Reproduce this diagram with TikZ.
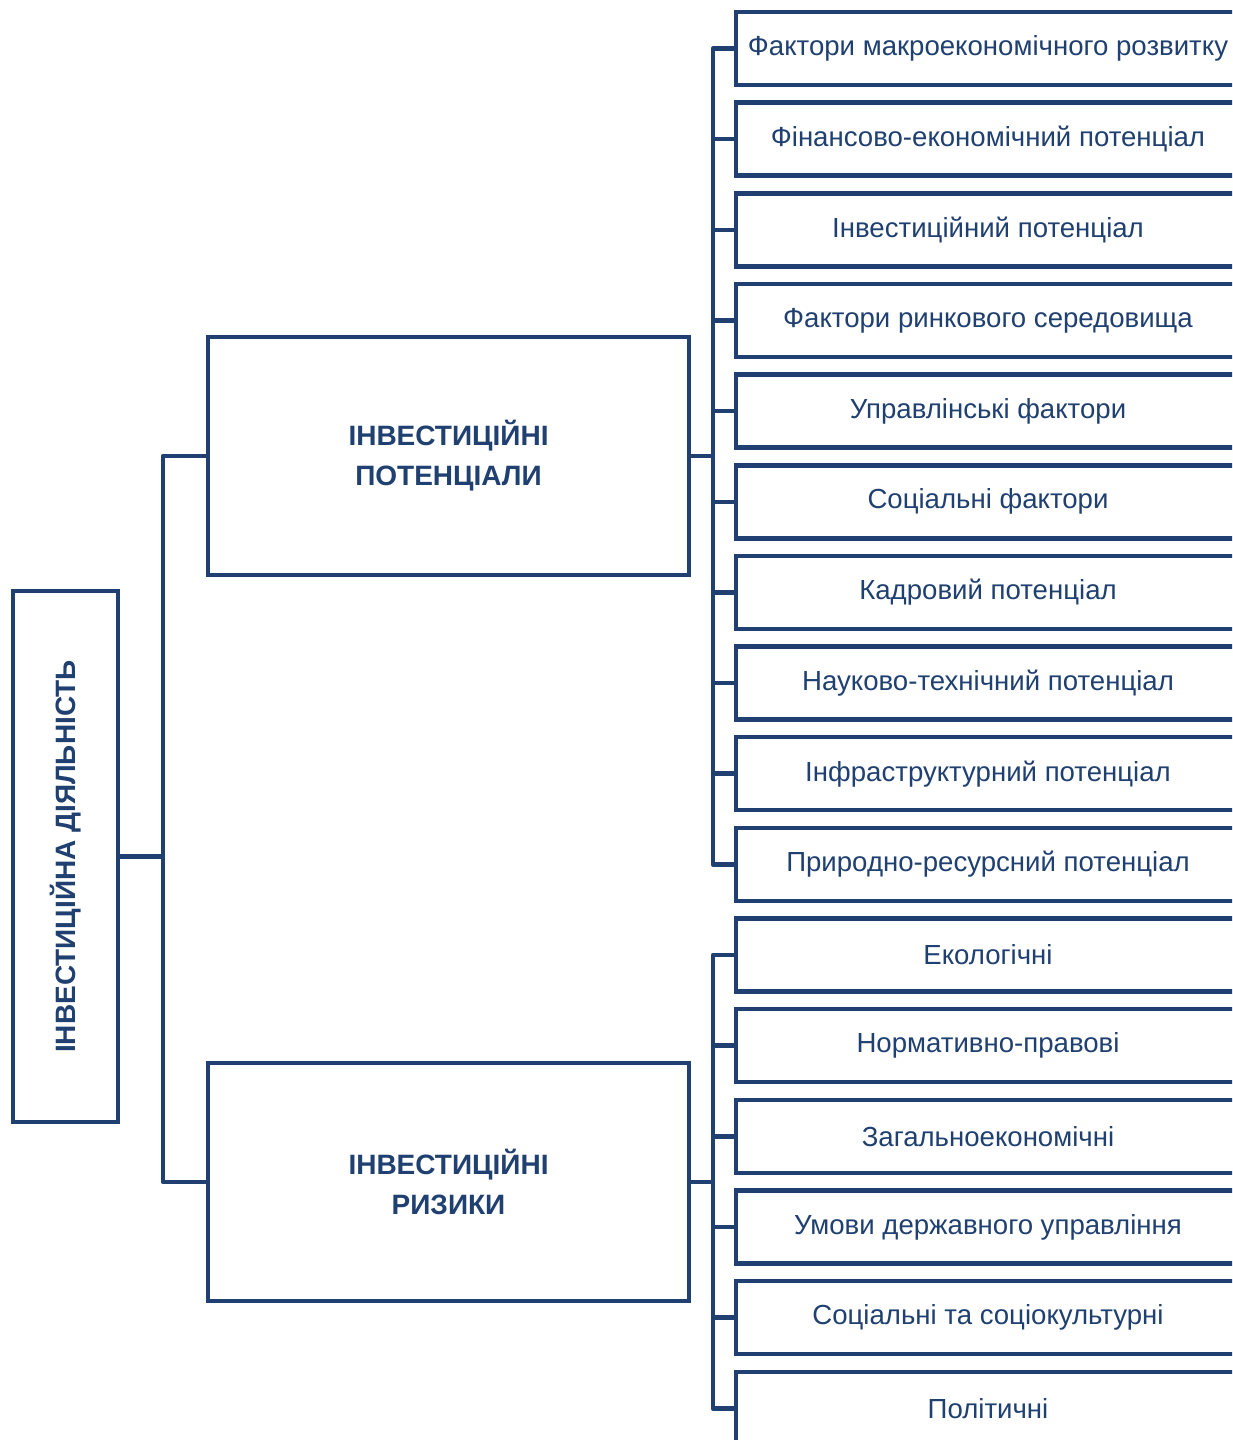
\documentclass[tikz,border=0pt]{standalone}
\usepackage{fontspec}
\setmainfont{Liberation Sans}
\definecolor{navy}{RGB}{31,64,112}
\begin{document}
\begin{tikzpicture}[x=1pt,y=-1pt,
  box/.style={draw=navy,line width=4.5pt,rectangle,inner sep=0pt,text=navy,align=center},
  rbox/.style={box,minimum width=504pt,minimum height=73pt,font=\fontsize{27.6}{32}\selectfont},
  mbox/.style={box,minimum width=481pt,minimum height=238pt,font=\fontsize{28}{40}\selectfont\bfseries},
  conn/.style={draw=navy,line width=4.5pt,line join=round}]
\useasboundingbox (0,0) rectangle (1232,1440);
\clip (0,0) rectangle (1232,1440);
\fill[white] (0,0) rectangle (1232,1440);
% left box
\node[box,minimum width=105pt,minimum height=531pt] (root) at (65.5,856.5) {};
\node[text=navy,rotate=90,font=\fontsize{28}{32}\selectfont\bfseries] (roottxt) at (65.5,856.5) {ІНВЕСТИЦІЙНА ДІЯЛЬНІСТЬ};
% middle boxes
\node[mbox] (ip) at (448.5,456) {ІНВЕСТИЦІЙНІ\\ПОТЕНЦІАЛИ};
\node[mbox] (ir) at (448.5,1182) {ІНВЕСТИЦІЙНІ\\РИЗИКИ};
% right boxes
\foreach \i/\t in {1/Фактори макроекономічного розвитку,2/Фінансово-економічний потенціал,3/Інвестиційний потенціал,4/Фактори ринкового середовища,5/Управлінські фактори,6/Соціальні фактори,7/Кадровий потенціал,8/Науково-технічний потенціал,9/Інфраструктурний потенціал,10/Природно-ресурсний потенціал,11/Екологічні,12/Нормативно-правові,13/Загальноекономічні,14/Умови державного управління,15/Соціальні та соціокультурні,16/Політичні}
  \node[rbox] (r\i) at (988,{48.5+90.65*(\i-1)}) {\t};
% connectors
\coordinate (b0) at (163,0);
\coordinate (b1) at (713,0);
\draw[conn] (root.east) -- (root.east -| b0);
\draw[conn] (ip.west) -- (ip.west -| b0) -- (ir.west -| b0) -- (ir.west);
\draw[conn] (ip.east) -- (ip.east -| b1);
\draw[conn] (ir.east) -- (ir.east -| b1);
\draw[conn] (r1.west) -- (r1.west -| b1) -- (r10.west -| b1) -- (r10.west);
\draw[conn] (r11.west) -- (r11.west -| b1) -- (r16.west -| b1) -- (r16.west);
\foreach \i in {2,...,9} \draw[conn] (r\i.west) -- (r\i.west -| b1);
\foreach \i in {12,...,15} \draw[conn] (r\i.west) -- (r\i.west -| b1);
\end{tikzpicture}
\end{document}
